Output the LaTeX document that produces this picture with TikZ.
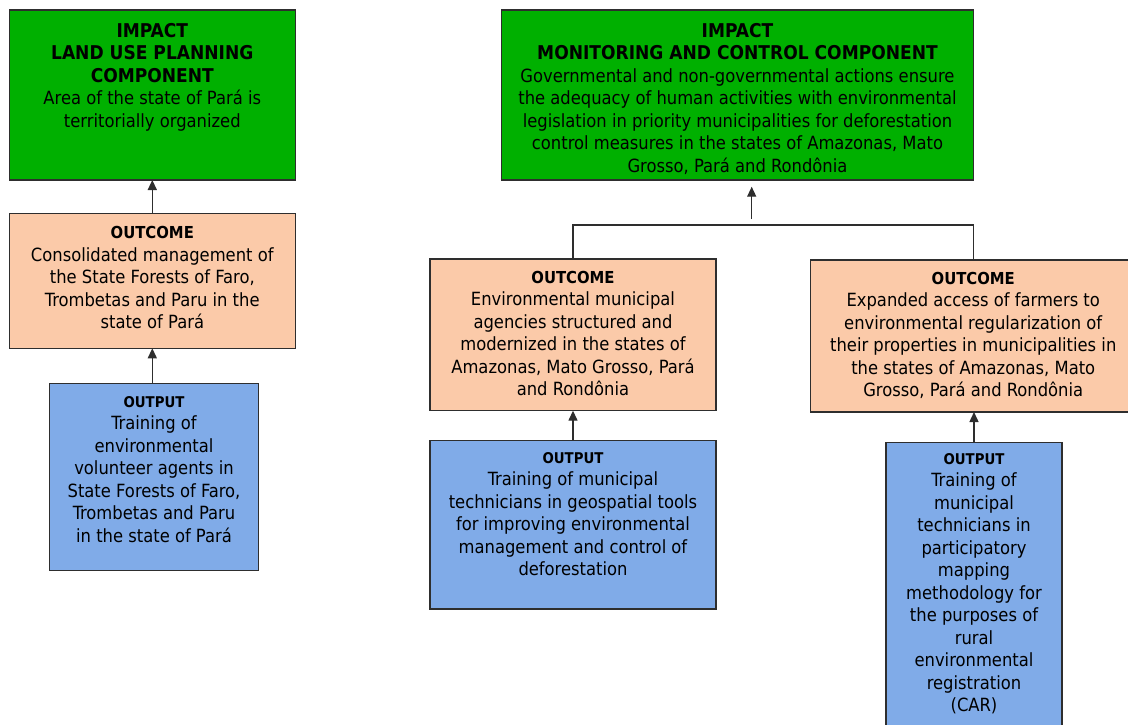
\documentclass[tikz,border=0pt]{standalone}
\usepackage{fontspec}
\setmainfont{DejaVu Sans Condensed}
\usetikzlibrary{arrows.meta}
\definecolor{impgreen}{HTML}{00B000}
\definecolor{ocpeach}{HTML}{FBCAA9}
\definecolor{opblue}{HTML}{80ABE8}
\definecolor{edgegray}{HTML}{2E2E2E}
\begin{document}
\begin{tikzpicture}[x=1pt,y=-1pt,
  box/.style={draw=edgegray, line width=1.4pt, inner sep=0pt, outer sep=0pt},
  txt/.style={anchor=north, align=center, inner sep=0pt, font=\fontsize{18.2}{22.5}\selectfont, text=black},
  conn/.style={draw=edgegray, line width=1.4pt},
  arr/.style={conn, -{Triangle[length=10pt,width=9pt]}}]
\useasboundingbox (0,0) rectangle (1128,724);
\newcommand{\hdrA}[1]{{\fontsize{19}{22.5}\selectfont\bfseries #1}}
\newcommand{\hdrB}[1]{{\fontsize{16.5}{22.5}\selectfont\bfseries #1}}
\newcommand{\hdrC}[1]{{\fontsize{14.8}{22.5}\selectfont\bfseries #1}}

% ---------- left column ----------
\node[box, fill=impgreen, minimum width=286pt, minimum height=170pt] (imp1) at (152.3,95) {};
\node[box, fill=ocpeach, minimum width=286pt, minimum height=135pt] (oc1) at (152.3,280.8) {};
\node[box, fill=opblue, minimum width=209.4pt, minimum height=187pt] (op1) at (154,476.8) {};

\node[txt] (imp1t) at (152.3,22.7) {\hdrA{IMPACT}\\\hdrA{LAND USE PLANNING}\\\hdrA{COMPONENT}\\Area of the state of Pará is\\territorially organized};
\node[txt] (oc1t) at (152.3,226.3) {\hdrB{OUTCOME}\\Consolidated management of\\the State Forests of Faro,\\Trombetas and Paru in the\\state of Pará};
\node[txt] (op1t) at (154,396.2) {\hdrC{OUTPUT}\\Training of\\environmental\\volunteer agents in\\State Forests of Faro,\\Trombetas and Paru\\in the state of Pará};

\draw[arr] (oc1.north) -- (imp1.south);
\draw[arr] (op1.north -| oc1.north) -- (oc1.south);

% ---------- right part ----------
\node[box, fill=impgreen, minimum width=472pt, minimum height=170pt] (imp2) at (737.5,95) {};
\node[box, fill=ocpeach, minimum width=286pt, minimum height=151.7pt] (oc2a) at (573,334.85) {};
\node[box, fill=ocpeach, minimum width=325.5pt, minimum height=152pt] (oc2b) at (973.25,336) {};
\node[box, fill=opblue, minimum width=286pt, minimum height=168.3pt] (op2a) at (573,524.85) {};
\node[box, fill=opblue, minimum width=176pt, minimum height=297.3pt] (op2b) at (974,591.35) {};

\node[txt] (imp2t) at (737.5,22.7) {\hdrA{IMPACT}\\\hdrA{MONITORING AND CONTROL COMPONENT}\\Governmental and non-governmental actions ensure\\the adequacy of human activities with environmental\\legislation in priority municipalities for deforestation\\control measures in the states of Amazonas, Mato\\Grosso, Pará and Rondônia};
\node[txt] (oc2at) at (573,271) {\hdrB{OUTCOME}\\Environmental municipal\\agencies structured and\\modernized in the states of\\Amazonas, Mato Grosso, Pará\\and Rondônia};
\node[txt] (oc2bt) at (973.25,272) {\hdrB{OUTCOME}\\Expanded access of farmers to\\environmental regularization of\\their properties in municipalities in\\the states of Amazonas, Mato\\Grosso, Pará and Rondônia};
\node[txt] (op2at) at (573,452.2) {\hdrC{OUTPUT}\\Training of municipal\\technicians in geospatial tools\\for improving environmental\\management and control of\\deforestation};
\node[txt] (op2bt) at (974,453.2) {\hdrC{OUTPUT}\\Training of\\municipal\\technicians in\\participatory\\mapping\\methodology for\\the purposes of\\rural\\environmental\\registration\\(CAR)};

\coordinate (jlow) at (751.7,219);
\coordinate (jtip) at (751.7,186.7);
\coordinate (jbar) at (751.7,225);
\draw[arr] (jlow) -- (jtip);
\draw[conn] (oc2a.north) |- (jbar) -| (oc2b.north);
\draw[arr] (op2a.north) -- (oc2a.south);
\draw[arr] (op2b.north) -- (op2b.north |- oc2b.south);
\end{tikzpicture}
\end{document}
